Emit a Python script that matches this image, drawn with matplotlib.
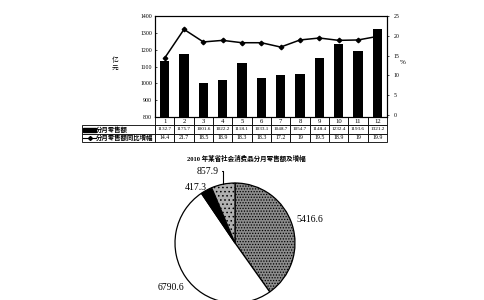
import matplotlib
matplotlib.use("Agg")
import matplotlib.pyplot as plt
from matplotlib.lines import Line2D
from matplotlib.patches import Rectangle
import numpy as np

plt.rcParams["font.family"] = ["Liberation Serif", "Noto Sans CJK SC"]
plt.rcParams["hatch.linewidth"] = 0.6

W, H = 484, 300

months = [str(m) for m in range(1, 13)]
retail = [1132.7, 1175.7, 1001.6, 1022.2, 1118.1, 1033.1,
          1048.7, 1054.7, 1148.4, 1232.4, 1193.6, 1321.2]
growth = [14.4, 21.7, 18.5, 18.9, 18.3, 18.3, 17.2, 19, 19.5, 18.9, 19, 19.9]
row_labels = ["分月零售额", "分月零售额同比增幅"]
title = "2010 年某省社会消费品分月零售额及增幅"

pie_values = [5416.6, 6790.6, 417.3, 857.9]
pie_labels = ["5416.6", "6790.6", "417.3", "857.9"]


def fx(px):
    return px / W


def fy(py):
    return 1 - py / H


fig = plt.figure(figsize=(W / 100, H / 100), dpi=100)
fig.patch.set_facecolor("white")

# ---- bar + line chart
ax = fig.add_axes([fx(155), fy(117), fx(387) - fx(155), fy(16) - fy(117)])
x = np.arange(len(months))
ax.bar(x, retail, width=0.47, color="black")
ax.set_xlim(-0.5, len(months) - 0.5)
ax.set_ylim(800, 1400)
ax.set_yticks(np.arange(800, 1401, 100))
ax.set_xticks([])
ax.tick_params(axis="y", labelsize=4.2, length=1.5, width=0.5, direction="in", pad=2)
for s in ax.spines.values():
    s.set_linewidth(0.8)
fig.text(fx(115), fy(64), "亿\n元", fontsize=4.8, ha="center", va="center",
         linespacing=1.0, family=["Noto Sans CJK SC"])

ax2 = ax.twinx()
ax2.plot(x, growth, color="black", lw=1.1, marker="D", ms=2.3)
ax2.set_ylim(-0.6, 25.1)
ax2.set_yticks(np.arange(0, 26, 5))
ax2.tick_params(axis="y", labelsize=4.2, length=1.5, width=0.5, pad=3)
fig.text(fx(403), fy(62), "%", fontsize=5, ha="center", va="center")

# ---- data table under the chart
label_w = 155 - 82
col_w = (387 - 155) / len(months)
total_w = label_w + col_w * len(months)
cells = [[""] + months,
         [row_labels[0]] + [f"{v:g}" for v in retail],
         [row_labels[1]] + [f"{v:g}" for v in growth]]
tab_h = (142 - 117) / (117 - 16)
tbl = ax.table(cellText=cells, cellLoc="center",
               colWidths=[label_w / total_w] + [col_w / total_w] * len(months),
               bbox=[-label_w / 232, -tab_h, total_w / 232, tab_h])
tbl.auto_set_font_size(False)
for (i, j), cell in tbl.get_celld().items():
    cell.set_linewidth(0.6)
    cell.PAD = 0.02
    t = cell.get_text()
    if i == 0:
        t.set_fontsize(4.8)
    elif i == 1:
        t.set_fontsize(3.7)
    else:
        t.set_fontsize(4.2)
    if j == 0:
        t.set_fontsize(4.6)
        t.set_fontweight("bold")
        t.set_family(["Noto Sans CJK SC"])
        t.set_horizontalalignment("left")
        cell._loc = "left"
        cell.PAD = 0.19
    if i == 0 and j == 0:
        cell.visible_edges = ""

# legend swatches in the row-label cells
fig.add_artist(Rectangle((fx(83), fy(131.5)), fx(13), fy(128) - fy(131.5),
                         transform=fig.transFigure, color="black"))
fig.add_artist(Line2D([fx(83), fx(96)], [fy(138), fy(138)],
                      transform=fig.transFigure, color="black", lw=0.8))
fig.add_artist(Line2D([fx(89.5)], [fy(138)], transform=fig.transFigure,
                      color="black", marker="D", ms=2))

fig.text(fx(246), fy(158), title, fontsize=4.7, fontweight="bold",
         ha="center", va="center", family=["Liberation Serif", "Noto Sans CJK SC"])

# ---- pie chart
R = 60
ext = 1.05
pax = fig.add_axes([fx(235 - R * ext), fy(243 + R * ext), fx(2 * R * ext),
                    fy(243 - R * ext) - fy(243 + R * ext)])
wedges, _ = pax.pie(pie_values, startangle=90, counterclock=False,
                    colors=["#8c8c8c", "white", "black", "#b0b0b0"],
                    wedgeprops=dict(edgecolor="black", linewidth=0.9))
wedges[0].set_hatch("......")
wedges[3].set_hatch("....")
pax.set_xlim(-ext, ext)
pax.set_ylim(-ext, ext)
pax.set_aspect("equal")
pax.axis("off")
for w in wedges:
    w.set_clip_on(False)

mids = [np.deg2rad((w.theta1 + w.theta2) / 2) for w in wedges]
pfs = 7
pax.text(1.3 * np.cos(mids[0]), 1.3 * np.sin(mids[0]), pie_labels[0],
         fontsize=pfs, ha="center", va="center")
pax.text(1.3 * np.cos(mids[1]), 1.3 * np.sin(mids[1]), pie_labels[1],
         fontsize=pfs, ha="center", va="center", clip_on=False)
pax.text(-0.66, 0.93, pie_labels[2], fontsize=pfs, ha="center", va="center")
pax.annotate(pie_labels[3], xy=(np.cos(mids[3]), np.sin(mids[3])),
             xytext=(-0.28, 1.2), fontsize=pfs, ha="right", va="center",
             arrowprops=dict(arrowstyle="-", lw=0.8, color="black",
                             shrinkA=1, shrinkB=0,
                             connectionstyle="angle,angleA=0,angleB=90,rad=0"))

fig.savefig("out.png", dpi=100, facecolor="white")
